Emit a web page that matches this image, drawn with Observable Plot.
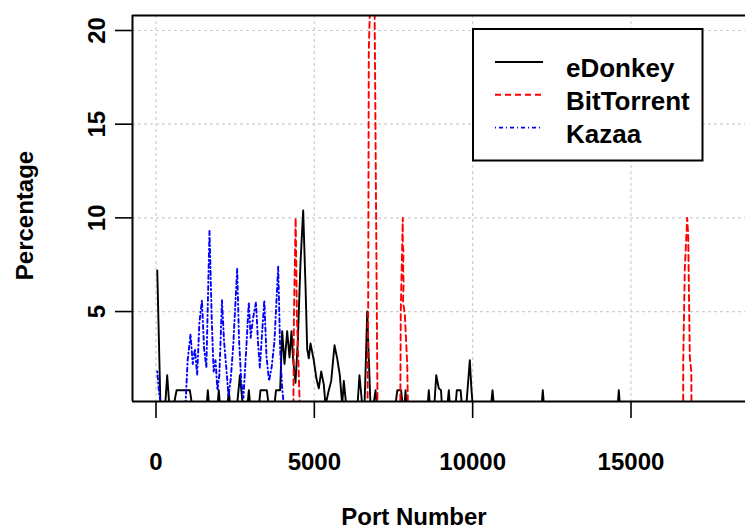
<!DOCTYPE html>
<html>
<head>
<meta charset="utf-8">
<script src="https://cdn.jsdelivr.net/npm/d3@7"></script>
<script src="https://cdn.jsdelivr.net/npm/@observablehq/plot@0.6"></script>
<style>
  body { margin: 0; background: white; }
  #wrap { position: relative; width: 745px; height: 531px; overflow: hidden; font-family: "Liberation Sans", Arial, sans-serif; }
  #legend { position: absolute; left: 472px; top: 28px; }
</style>
</head>
<body>
<div id="wrap"></div>
<script>
// ---- data ----
const seriesNames = ["eDonkey", "BitTorrent", "Kazaa"];
const seriesColors = ["black", "red", "blue"];
const seriesDash = ["none", "6,4", "1,3,4,3"];

const xTicks = [0, 5000, 10000, 15000];
const yTicks = [5, 10, 15, 20];
const xDomain = [-742, 18616];
const yDomain = [0.2, 20.8];

const edonkeyPort = [40,140,290,354,420,560,650,1070,1140,1600,1637,1675,1945,1983,2020,2260,2299,2340,2560,2650,2740,2890,2932,2975,3250,3300,3500,3560,3740,3790,3920,3985,4058,4143,4216,4279,4332,4405,4478,4563,4648,4721,4775,4825,4879,4983,5069,5141,5217,5299,5353,5457,5533,5637,5722,5805,5880,5931,6006,6363,6426,6512,6584,6616,6670,6720,6774,6868,6932,6980,7560,7620,7740,7790,7850,7880,7910,8580,8615,8650,8790,8850,8930,9000,9030,9200,9247,9280,9460,9500,9620,9660,9800,9910,9960,10000,10580,10627,10670,12180,12215,12250,14580,14615,14650,17000];
const edonkeyPct  = [7.2,0,0,1.6,0,0,0.8,0.8,0,0,0.8,0,0,0.8,0,0,0.8,0,0,1.6,0,0,0.8,0,0,0.8,0.8,0,0,0.8,0.8,3.95,2.2,3.95,2.55,3.95,2.4,1.2,3.4,7.6,10.4,6.4,3.0,2.5,3.3,2.4,1.4,0.9,1.8,1.1,0,0.8,1.3,3.2,2.5,1.6,0,1.3,0,0,1.6,0,0,1.7,5.0,2.5,0,0,0.8,0,0,0.8,0.8,0,0,0.8,0,0,0.8,0,0,1.6,0.9,0.8,0,0,0.8,0,0,0.8,0.8,0,0,2.4,0.9,0,0,0.8,0,0,0.8,0,0,0.8,0,0];

const bittorrentPort = [4340,4355,4410,4450,4540,6680,6700,6720,6800,6900,6995,7715,7730,7794,7794,7815,7805,7820,7800,7857,7933,7955,16648,16650,16700,16775,16807,16857,16905,16910];
const bittorrentPct  = [0,4.7,10,4.7,0,0,5,18.9,24,22,0,0,5,10,8.5,8.2,7.2,6.5,5.5,4.9,2.2,0,0,2.4,7.3,10,9,2.6,1.8,0];

const kazaaPort = [40,100,160,930,1000,1090,1160,1230,1300,1370,1450,1520,1590,1690,1760,1820,1880,1940,2000,2084,2150,2220,2290,2360,2440,2564,2620,2690,2760,2850,2930,2990,3060,3158,3220,3280,3340,3420,3490,3570,3650,3740,3859,3920,3980,4036];
const kazaaPct  = [1.8,0.6,0,0,2.4,3.8,2.2,3.0,1.6,4.4,5.6,3.0,2.0,9.3,4.6,1.8,2.4,0.8,1.6,5.6,3.4,2.0,0.5,1.4,3.2,7.3,3.6,1.3,0.4,3.0,5.5,3.6,4.6,5.5,3.4,2.0,3.6,5.6,2.6,1.3,2.0,3.4,7.4,3.0,1.0,0];

const toRows = (ports, pcts) => ports.map((p, i) => ({port: p, pct: pcts[i]}));
const edonkey = toRows(edonkeyPort, edonkeyPct);
const bittorrent = toRows(bittorrentPort, bittorrentPct);
const kazaa = toRows(kazaaPort, kazaaPct);

const FONT = 24;
const LW = 1.9;
const gridStyle = {stroke: "#cfcfcf", strokeOpacity: 1, strokeDasharray: "3,3", strokeWidth: 1.2};

const chart = Plot.plot({
  width: 745,
  height: 531,
  marginLeft: 132,
  marginRight: 0,
  marginTop: 15,
  marginBottom: 130,
  x: {domain: xDomain},
  y: {domain: yDomain},
  style: {fontFamily: '"Liberation Sans", Arial, sans-serif', fontSize: FONT + "px", color: "black", background: "white"},
  marks: [
    Plot.gridX(xTicks, gridStyle),
    Plot.gridY(yTicks, gridStyle),
    Plot.line(edonkey, {x: "port", y: "pct", stroke: seriesColors[0], strokeWidth: LW, clip: true}),
    Plot.line(bittorrent, {x: "port", y: "pct", stroke: seriesColors[1], strokeWidth: LW, strokeDasharray: seriesDash[1], clip: true}),
    Plot.line(kazaa, {x: "port", y: "pct", stroke: seriesColors[2], strokeWidth: LW, strokeDasharray: seriesDash[2], clip: true}),
    Plot.ruleY([yDomain[0]], {strokeWidth: 2}),
    Plot.ruleY([yDomain[1]], {strokeWidth: 2}),
    Plot.ruleX([xDomain[0]], {strokeWidth: 2}),
    Plot.axisX(xTicks, {tickSize: 17, tickPadding: 34, tickFormat: d => String(d), fontSize: FONT, fontWeight: "bold", label: null, strokeWidth: 1.6}),
    Plot.axisY(yTicks, {tickSize: 17, tickFormat: () => "", label: null, strokeWidth: 1.6}),
    Plot.text(yTicks, {y: d => d, text: d => String(d), frameAnchor: "left", dx: -35, rotate: -90, textAnchor: "middle", lineAnchor: "middle", fontSize: FONT, fontWeight: "bold"}),
    Plot.text(["Port Number"], {frameAnchor: "bottom", dx: -25, dy: 116, textAnchor: "middle", lineAnchor: "middle", fontSize: FONT, fontWeight: "bold"}),
    Plot.text(["Percentage"], {frameAnchor: "left", dx: -107, dy: 7, rotate: -90, textAnchor: "middle", lineAnchor: "middle", fontSize: FONT, fontWeight: "bold"})
  ]
});
document.getElementById("wrap").appendChild(chart);

// ---- legend (inside the plot area, top right) ----
const lg = d3.select("#wrap").append("svg").attr("id", "legend")
  .attr("width", 232).attr("height", 134);
lg.append("rect").attr("x", 1).attr("y", 1).attr("width", 229.5).attr("height", 131.5)
  .attr("fill", "white").attr("stroke", "black").attr("stroke-width", 2);
seriesNames.forEach((name, i) => {
  const y = 34 + i * 32.8;
  lg.append("line").attr("x1", 23).attr("x2", 71).attr("y1", y).attr("y2", y)
    .attr("stroke", seriesColors[i]).attr("stroke-width", LW)
    .attr("stroke-dasharray", seriesDash[i] === "none" ? null : seriesDash[i]);
  lg.append("text").attr("x", 94).attr("y", y + 6).attr("dominant-baseline", "central")
    .attr("font-family", '"Liberation Sans", Arial, sans-serif').attr("font-size", 26).attr("font-weight", "bold")
    .text(name);
});
</script>
</body>
</html>
